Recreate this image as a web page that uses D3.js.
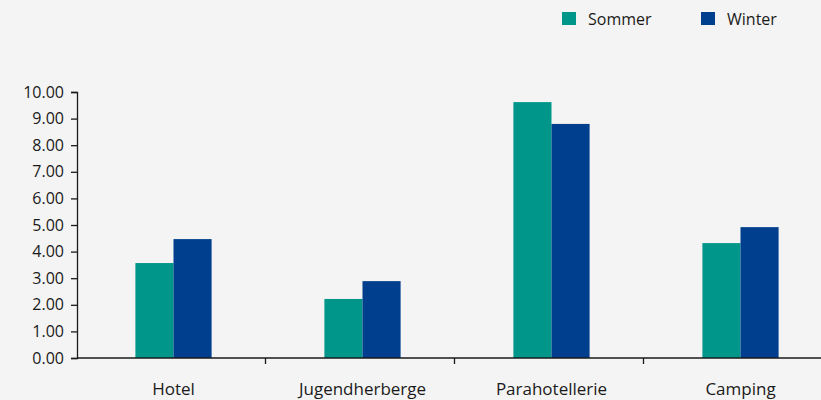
<!DOCTYPE html>
<html>
<head>
<meta charset="utf-8">
<script src="https://cdn.jsdelivr.net/npm/d3@7"></script>
<style>
	html, body { margin: 0; padding: 0; background: #f4f4f4; }
	svg { display: block; font-family: "Open Sans", sans-serif; }
</style>
</head>
<body>
<script>
// data
var categories = ["Hotel", "Jugendherberge", "Parahotellerie", "Camping"]
var seriesNames = ["Sommer", "Winter"]
var sommer = [3.57, 2.22, 9.62, 4.32]
var winter = [4.47, 2.89, 8.80, 4.92]
var yTicks = [0, 1, 2, 3, 4, 5, 6, 7, 8, 9, 10]

var colors = { Sommer: "#00968a", Winter: "#003e8e" }

var width = 821, height = 400
var margin = { left: 77, top: 92, bottom: 358 }

var svg = d3.select("body").append("svg")
	.attr("width", width)
	.attr("height", height)

svg.append("rect")
	.attr("width", width)
	.attr("height", height)
	.attr("fill", "#f4f4f4")

var x0 = d3.scaleBand()
	.domain(categories)
	.range([79, 835])
	.padding(0)

var x1 = d3.scaleBand()
	.domain(seriesNames)
	.range([0, x0.bandwidth()])
	.paddingInner(0)
	.paddingOuter(1.48)

var y = d3.scaleLinear()
	.domain([0, 10])
	.range([margin.bottom, margin.top])

var rows = categories.map(function(c, i) {
	return { cat: c, Sommer: sommer[i], Winter: winter[i] }
})

// bars
var groups = svg.selectAll("g.cat")
	.data(rows)
	.enter().append("g")
	.attr("class", "cat")
	.attr("transform", function(d) { return "translate(" + x0(d.cat) + ",0)" })

groups.selectAll("rect")
	.data(function(d) { return seriesNames.map(function(s) { return { key: s, value: d[s] } }) })
	.enter().append("rect")
	.attr("x", function(d) { return x1(d.key) })
	.attr("width", x1.bandwidth())
	.attr("y", function(d) { return y(d.value) })
	.attr("height", function(d) { return y(0) - y(d.value) })
	.attr("fill", function(d) { return colors[d.key] })

// y axis
var yAxis = svg.append("g")
	.attr("transform", "translate(" + margin.left + ",0)")
	.call(d3.axisLeft(y).tickValues(yTicks).tickFormat(d3.format(".2f")).tickSize(6).tickPadding(7))
yAxis.select(".domain").attr("stroke", "#1a1a1a").attr("stroke-width", 1.3)
yAxis.selectAll(".tick line").attr("stroke", "#1a1a1a").attr("stroke-width", 1.3)
yAxis.selectAll("text").attr("font-size", 16).attr("fill", "#1a1a1a")
	.attr("font-family", "'Open Sans', sans-serif")

// x axis: line + ticks at category boundaries
var xg = svg.append("g")
xg.append("line")
	.attr("x1", margin.left).attr("x2", width)
	.attr("y1", y(0)).attr("y2", y(0))
	.attr("stroke", "#1a1a1a").attr("stroke-width", 1.3)

xg.selectAll("line.tk")
	.data(categories.slice(1))
	.enter().append("line")
	.attr("class", "tk")
	.attr("x1", function(d) { return x0(d) - 2.5 })
	.attr("x2", function(d) { return x0(d) - 2.5 })
	.attr("y1", y(0)).attr("y2", y(0) + 6)
	.attr("stroke", "#1a1a1a").attr("stroke-width", 1.3)

xg.selectAll("text")
	.data(categories)
	.enter().append("text")
	.attr("x", function(d) { return x0(d) + x0.bandwidth() / 2 })
	.attr("y", 395)
	.attr("text-anchor", "middle")
	.attr("font-size", 17)
	.attr("fill", "#1a1a1a")
	.text(function(d) { return d })

// legend
var legendX = [562, 701]
var legend = svg.selectAll("g.legend")
	.data(seriesNames)
	.enter().append("g")
	.attr("class", "legend")
	.attr("transform", function(d, i) { return "translate(" + legendX[i] + ",12)" })

legend.append("rect")
	.attr("width", 14)
	.attr("height", 13)
	.attr("fill", function(d) { return colors[d] })

legend.append("text")
	.attr("x", 26)
	.attr("y", 13)
	.attr("font-size", 16)
	.attr("fill", "#1a1a1a")
	.text(function(d) { return d })
</script>
</body>
</html>
